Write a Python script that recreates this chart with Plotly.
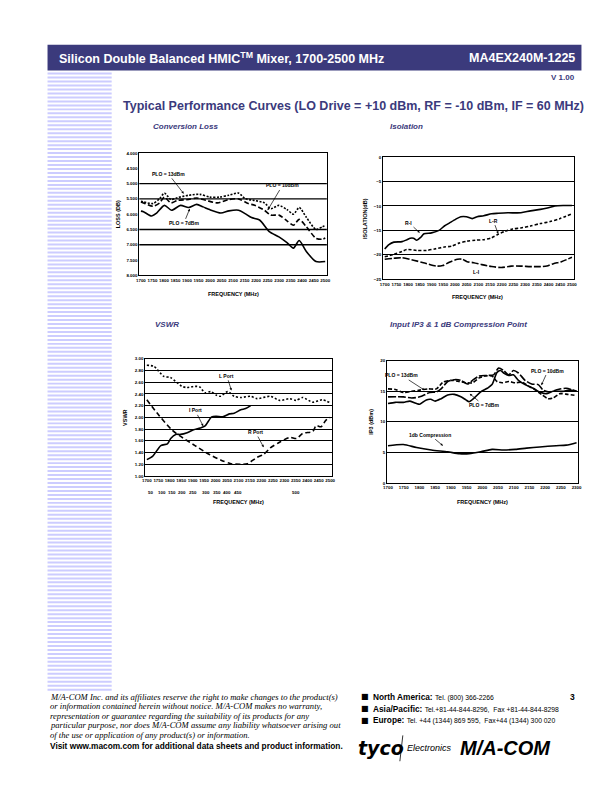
import plotly.graph_objects as go

# ---------------- data ----------------
# Conversion loss (dB) vs frequency (MHz)
LOSS13_F = [1700, 1711, 1753, 1781, 1802, 1830, 1858, 1907, 1956, 1998, 2040, 2082, 2124, 2152, 2194, 2236, 2264, 2299, 2334, 2362, 2387, 2418, 2460, 2488, 2500]
LOSS13 = [5.58, 5.60, 5.65, 5.49, 5.31, 5.52, 5.46, 5.38, 5.35, 5.44, 5.44, 5.38, 5.31, 5.49, 5.55, 5.63, 5.82, 5.71, 5.85, 6.00, 5.78, 6.10, 6.50, 6.41, 6.38]
LOSS10_F = [1700, 1711, 1753, 1781, 1802, 1830, 1858, 1907, 1942, 1984, 2033, 2082, 2124, 2166, 2194, 2236, 2264, 2299, 2334, 2362, 2387, 2418, 2460, 2488, 2500]
LOSS10 = [5.60, 5.63, 5.74, 5.63, 5.44, 5.63, 5.55, 5.52, 5.47, 5.55, 5.63, 5.52, 5.50, 5.65, 5.71, 5.87, 6.03, 6.03, 6.22, 6.36, 6.17, 6.41, 6.79, 6.82, 6.78]
LOSS7_F = [1700, 1711, 1746, 1767, 1802, 1833, 1872, 1907, 1942, 1970, 1998, 2047, 2082, 2124, 2152, 2180, 2215, 2257, 2299, 2334, 2362, 2387, 2418, 2460, 2500]
LOSS7 = [5.90, 5.92, 6.06, 5.97, 5.71, 5.87, 5.71, 5.78, 5.68, 5.76, 5.85, 5.96, 5.89, 5.87, 5.98, 6.11, 6.19, 6.57, 6.74, 6.93, 7.11, 6.86, 7.22, 7.55, 7.55]
LOSS_TICKS = [4.0, 4.5, 5.0, 5.5, 6.0, 6.5, 7.0, 7.5, 8.0]
LOSS_GRID = [5.0, 5.5, 6.5, 7.0]

# Isolation (dB)
RI_F = [1700, 1718, 1739, 1774, 1795, 1809, 1823, 1837, 1854, 1868, 1900, 1932, 1955, 1976, 2004, 2025, 2049, 2074, 2095, 2123, 2157, 2185, 2226, 2282, 2323, 2365, 2395, 2427, 2462, 2500]
RI = [-18.8, -17.9, -17.4, -17.3, -16.9, -16.6, -16.6, -17.0, -16.4, -15.7, -15.5, -15.0, -14.1, -13.5, -12.7, -12.2, -12.2, -12.6, -12.2, -12.0, -11.6, -11.5, -11.4, -11.4, -11.0, -10.7, -10.4, -10.0, -9.9, -9.9]
LR_F = [1700, 1739, 1774, 1795, 1837, 1878, 1913, 1955, 1987, 2017, 2052, 2087, 2122, 2157, 2185, 2213, 2247, 2282, 2323, 2365, 2407, 2448, 2500]
LR = [-20.4, -19.9, -19.3, -18.9, -19.1, -19.1, -18.8, -18.4, -18.2, -17.6, -17.2, -17.0, -16.9, -16.5, -15.8, -15.2, -14.7, -14.5, -14.1, -13.6, -13.2, -12.6, -11.6]
LI_F = [1700, 1739, 1774, 1823, 1865, 1920, 1948, 1976, 2011, 2032, 2052, 2080, 2115, 2157, 2198, 2240, 2282, 2323, 2365, 2393, 2421, 2455, 2500]
LI = [-20.9, -20.7, -20.6, -21.1, -21.6, -22.3, -22.2, -21.5, -20.9, -20.9, -21.4, -21.6, -22.0, -22.4, -22.6, -22.3, -22.3, -22.4, -22.4, -22.3, -21.8, -21.4, -20.5]

# VSWR
LPORT_F = [1700, 1731, 1774, 1803, 1853, 1874, 1910, 1931, 1953, 1979, 2003, 2021, 2053, 2081, 2110, 2153, 2181, 2239, 2280, 2323, 2351, 2380, 2423, 2466, 2500]
LPORT = [2.89, 2.87, 2.70, 2.68, 2.53, 2.51, 2.53, 2.52, 2.42, 2.44, 2.38, 2.36, 2.44, 2.36, 2.34, 2.36, 2.32, 2.36, 2.29, 2.32, 2.29, 2.34, 2.26, 2.30, 2.25]
RPORT_F = [1700, 1754, 1811, 1846, 1910, 1967, 2024, 2067, 2110, 2139, 2181, 2210, 2239, 2281, 2324, 2353, 2381, 2424, 2439, 2460, 2481, 2500]
RPORT = [2.30, 2.03, 1.78, 1.68, 1.52, 1.38, 1.27, 1.21, 1.20, 1.21, 1.32, 1.37, 1.48, 1.58, 1.66, 1.64, 1.73, 1.76, 1.86, 1.84, 1.95, 2.00]
IPORT_F = [1700, 1726, 1761, 1790, 1804, 1826, 1847, 1876, 1904, 1933, 1953, 1983, 2003, 2031, 2060, 2081, 2110, 2131, 2153]
IPORT = [1.28, 1.34, 1.52, 1.55, 1.64, 1.71, 1.71, 1.74, 1.79, 1.82, 1.85, 2.01, 2.02, 2.01, 2.06, 2.07, 2.13, 2.15, 2.20]
IF_LABELS = ["50", "100", "150", "200", "250", "300", "350", "400", "450", "500"]
IF_AT_RF = [1718, 1765, 1811, 1852, 1903, 1957, 2004, 2049, 2100, 2349]

# Input IP3 (dBm) and 1 dB compression
IP7_F = [1700, 1723, 1749, 1770, 1791, 1801, 1822, 1836, 1850, 1869, 1890, 1911, 1932, 1948, 1958, 1974, 1995, 2016, 2031, 2047, 2058, 2068, 2084, 2099, 2115, 2136, 2162, 2183, 2204, 2225, 2256, 2277, 2300]
IP7 = [13.0, 13.2, 13.2, 13.4, 13.0, 12.9, 13.6, 13.7, 13.4, 13.8, 14.4, 14.5, 14.1, 13.6, 13.3, 13.9, 14.9, 15.5, 16.1, 18.1, 18.4, 18.0, 17.6, 17.7, 16.8, 16.1, 15.5, 14.9, 14.6, 15.0, 15.0, 15.2, 15.0]
IP10_F = [1700, 1749, 1775, 1801, 1833, 1854, 1869, 1890, 1911, 1932, 1953, 1969, 1990, 2016, 2036, 2052, 2068, 2084, 2099, 2115, 2136, 2157, 2178, 2194, 2214, 2241, 2267, 2300]
IP10 = [14.1, 14.1, 13.9, 14.1, 14.8, 14.9, 15.4, 16.6, 16.9, 16.8, 16.2, 16.8, 17.5, 17.6, 17.7, 18.8, 18.4, 17.7, 18.4, 18.0, 16.8, 16.2, 16.1, 15.2, 14.9, 15.3, 15.5, 15.0]
IP13_F = [1700, 1723, 1749, 1775, 1801, 1827, 1854, 1875, 1901, 1927, 1948, 1969, 1990, 2010, 2031, 2047, 2063, 2084, 2105, 2126, 2146, 2167, 2188, 2209, 2225, 2246, 2272, 2300]
IP13 = [15.4, 15.3, 14.8, 15.0, 15.2, 15.4, 15.4, 16.5, 16.8, 16.6, 16.4, 16.4, 17.2, 17.5, 17.5, 16.6, 16.4, 16.6, 16.4, 16.5, 15.9, 15.3, 14.5, 13.8, 13.9, 14.6, 14.5, 14.3]
P1DB_F = [1700, 1749, 1791, 1838, 1890, 1927, 1958, 1995, 2031, 2068, 2105, 2141, 2183, 2235, 2267, 2300]
P1DB = [6.1, 6.3, 5.8, 5.4, 5.1, 4.8, 4.8, 5.1, 5.5, 5.4, 5.5, 5.7, 5.9, 6.1, 6.2, 6.6]

# ---------------- layout helpers ----------------
W, H = 612, 792
NAVY = "#3b3a7c"
FONT = "Liberation Sans, Arial, sans-serif"


def xd(x0, x1):
    return [x0 / W, x1 / W]


def yd(y0, y1):
    return [1 - y1 / H, 1 - y0 / H]


def px(x):
    return x / W


def py(y):
    return 1 - y / H


fig = go.Figure()

line_kw = dict(shape="spline", smoothing=0.7)


def add(xs, ys, axis, dash, width=1.6):
    fig.add_trace(go.Scatter(x=xs, y=ys, mode="lines", xaxis="x" + axis, yaxis="y" + axis,
                             line=dict(color="black", width=width, dash=dash, **line_kw),
                             showlegend=False, hoverinfo="skip"))


add(LOSS13_F, LOSS13, "", "2px,1.5px")
add(LOSS10_F, LOSS10, "", "5px,2.5px")
add(LOSS7_F, LOSS7, "", "solid")

add(RI_F, RI, "2", "solid")
add(LR_F, LR, "2", "3px,2px")
add(LI_F, LI, "2", "7px,2px")

add(LPORT_F, LPORT, "3", "2px,2px")
add(RPORT_F, RPORT, "3", "5px,3px")
add(IPORT_F, IPORT, "3", "solid")

add(IP13_F, IP13, "4", "4px,2px")
add(IP10_F, IP10, "4", "8px,2px")
add(IP7_F, IP7, "4", "solid")
add(P1DB_F, P1DB, "4", "solid")

tickfont = dict(family=FONT, size=4.4, color="black", weight="bold")
ax_common = dict(showline=True, linecolor="black", linewidth=1, mirror=True, ticks="",
                 tickfont=tickfont, zeroline=False, fixedrange=True)

fig.update_layout(
    width=W, height=H, margin=dict(l=0, r=0, t=0, b=0),
    paper_bgcolor="white", plot_bgcolor="white", showlegend=False,
    xaxis=dict(domain=xd(129, 319), range=[1693, 2507], tickvals=list(range(1700, 2501, 50)), tickangle=0,
               showgrid=False, anchor="y", **ax_common),
    yaxis=dict(domain=yd(144, 267), range=[8, 4], tickvals=LOSS_TICKS, tickformat=".3f",
               showgrid=False, anchor="x", **ax_common),
    xaxis2=dict(domain=xd(376, 569), range=[1693, 2507], tickvals=list(range(1700, 2501, 50)), tickangle=0,
                showgrid=False, anchor="y2", **ax_common),
    yaxis2=dict(domain=yd(148, 271), range=[-25, 0], tickvals=[0, -5, -10, -15, -20, -25],
                showgrid=True, gridcolor="black", gridwidth=1.3, anchor="x2", **ax_common),
    xaxis3=dict(domain=xd(135, 324), range=[1693, 2507], tickvals=list(range(1700, 2501, 50)), tickangle=0,
                showgrid=False, anchor="y3", **ax_common),
    yaxis3=dict(domain=yd(351, 469), range=[1.0, 3.0], tickvals=[1.0 + 0.2 * i for i in range(11)],
                tickformat=".2f", showgrid=True, gridcolor="black", gridwidth=1.3, anchor="x3", **ax_common),
    xaxis4=dict(domain=xd(380, 573), range=[1697, 2303], tickvals=list(range(1700, 2301, 50)), tickangle=0,
                showgrid=False, anchor="y4", **ax_common),
    yaxis4=dict(domain=yd(353, 476), range=[0, 20], tickvals=[0, 5, 10, 15, 20],
                showgrid=True, gridcolor="black", gridwidth=1.3, anchor="x4", **ax_common),
)

shapes = []
# decorative stripes at left
yy = 63
while yy <= 683:
    shapes.append(dict(type="rect", xref="paper", yref="paper", x0=px(36), x1=px(101),
                       y0=py(yy + 2), y1=py(yy), fillcolor="#ccccff", line=dict(width=0), layer="below"))
    yy += 4
# header bar
shapes.append(dict(type="rect", xref="paper", yref="paper", x0=px(36), x1=px(577), y0=py(61), y1=py(35),
                   fillcolor=NAVY, line=dict(width=0)))
# conversion loss gridlines
for g in LOSS_GRID:
    shapes.append(dict(type="line", xref="x domain", yref="y", x0=0, x1=1, y0=g, y1=g,
                       line=dict(color="black", width=1.3), layer="below"))
# slash in the tyco logo
shapes.append(dict(type="line", xref="paper", yref="paper", x0=px(393), x1=px(396), y0=py(756), y1=py(730),
                   line=dict(color="black", width=0.8)))
fig.update_layout(shapes=shapes)

ann = []


def text(x, y, s, size, color="black", bold=False, italic=False, anchor="left", family=FONT, yanchor="middle", angle=0):
    if bold:
        s = "<b>" + s + "</b>"
    if italic:
        s = "<i>" + s + "</i>"
    ann.append(dict(x=px(x), y=py(y), xref="paper", yref="paper", text=s, showarrow=False,
                    xanchor=anchor, yanchor=yanchor, textangle=angle,
                    font=dict(family=family, size=size, color=color)))


# header
text(46, 48, "Silicon Double Balanced HMIC<sup>TM</sup> Mixer, 1700-2500 MHz", 12.5, "white", bold=True)
text(572, 48, "MA4EX240M-1225", 12.5, "white", bold=True, anchor="right")
text(572, 68, "V 1.00", 8, NAVY, bold=True, anchor="right")
text(110, 97, "Typical Performance Curves (LO Drive = +10 dBm, RF = -10 dBm, IF = 60 MHz)", 12.5, NAVY, bold=True)

# section titles
text(141, 117, "Conversion Loss", 8, NAVY, bold=True, italic=True)
text(381, 117, "Isolation", 8, NAVY, bold=True, italic=True)
text(143, 316, "VSWR", 8, NAVY, bold=True, italic=True)
text(381, 316, "Input IP3 &amp; 1 dB Compression Point", 8, NAVY, bold=True, italic=True)

# axis titles
text(224, 286, "FREQUENCY (MHz)", 5.5, bold=True, anchor="center")
text(472, 289, "FREQUENCY (MHz)", 5.5, bold=True, anchor="center")
text(230, 495, "FREQUENCY (MHz)", 5.5, bold=True, anchor="center")
text(477, 495, "FREQUENCY (MHz)", 5.5, bold=True, anchor="center")
text(107, 206, "LOSS (DB)", 5.5, bold=True, anchor="center", angle=-90)
text(357, 210, "ISOLATION(dB)", 5.5, bold=True, anchor="center", angle=-90)
text(115, 410, "VSWR", 5.5, bold=True, anchor="center", angle=-90)
text(364, 414, "IP3 (dBm)", 5.5, bold=True, anchor="center", angle=-90)

# IF frequency row under VSWR
for lab, f in zip(IF_LABELS, IF_AT_RF):
    ann.append(dict(x=f, y=py(486), xref="x3", yref="paper", text="<b>" + lab + "</b>", showarrow=False,
                    xanchor="center", yanchor="middle", font=dict(family=FONT, size=4.4, color="black")))


def callout(axis, x, y, tx, ty, s):
    ann.append(dict(x=x, y=y, ax=tx, ay=ty, xref="x" + axis, yref="y" + axis, axref="x" + axis, ayref="y" + axis,
                    text="<b>" + s + "</b>", showarrow=True, arrowhead=2, arrowsize=0.7, arrowwidth=0.7,
                    arrowcolor="black", font=dict(family=FONT, size=5, color="black")))


callout("", 1886, 5.33, 1819, 4.68, "PLO = 13dBm")
callout("", 2250, 5.87, 2314, 5.06, "PLO = 10dBm")
callout("", 1912, 5.82, 1886, 6.30, "PLO = 7dBm")
callout("2", 1850, -15.5, 1802, -13.4, "R-I")
callout("2", 2185, -15.7, 2164, -13.0, "L-R")
callout("2", 2046, -21.2, 2094, -23.6, "L-I")
callout("3", 2069, 2.46, 2049, 2.71, "L Port")
callout("3", 1946, 1.85, 1911, 2.12, "I Port")
callout("3", 2210, 1.49, 2174, 1.75, "R Port")
callout("4", 1816, 15.2, 1744, 17.6, "PLO = 13dBm")
callout("4", 1960, 14.6, 2005, 12.7, "PLO = 7dBm")
callout("4", 2188, 16.0, 2209, 18.4, "PLO = 10dBm")
callout("4", 1875, 6.1, 1833, 7.9, "1db Compression")

# footer disclaimer
SERIF = "Liberation Serif, Times New Roman, serif"
disc = ["M/A-COM Inc. and its affiliates reserve the right to make changes to the product(s)",
        "or information contained herein without notice. M/A-COM makes no warranty,",
        "representation or guarantee regarding the suitability of its products for any",
        "particular purpose, nor does M/A-COM assume any liability whatsoever arising out",
        "of the use or application of any product(s) or information."]
for i, line in enumerate(disc):
    text(36, 691 + i * 9.6, line, 8.6, italic=True, family=SERIF)
text(36, 741, "Visit www.macom.com for additional data sheets and product information.", 8.3, bold=True)

contacts = [("North America:", "Tel. (800) 366-2266"),
            ("Asia/Pacific:", "Tel.+81-44-844-8296,  Fax +81-44-844-8298"),
            ("Europe:", "Tel. +44 (1344) 869 595,  Fax+44 (1344) 300 020")]
for i, (a, b) in enumerate(contacts):
    y = 691 + i * 12
    text(352, y, "■", 8, family="DejaVu Sans")
    ann.append(dict(x=px(364), y=py(y), xref="paper", yref="paper", showarrow=False, xanchor="left",
                    yanchor="middle", text="<b>" + a + "</b> <span style='font-size:6.8px'>" + b + "</span>",
                    font=dict(family=FONT, size=8.3, color="black")))
text(572, 691, "3", 8.5, bold=True, anchor="right")

# logos (as text)
text(349, 743, "tyco", 19, bold=True, italic=True, family="DejaVu Sans")
text(398, 743, "Electronics", 9, italic=True)
text(500, 743, "M/A-COM", 20, bold=True, italic=True, anchor="center", family=FONT)

fig.update_layout(annotations=ann)
fig.write_html("out.html")
